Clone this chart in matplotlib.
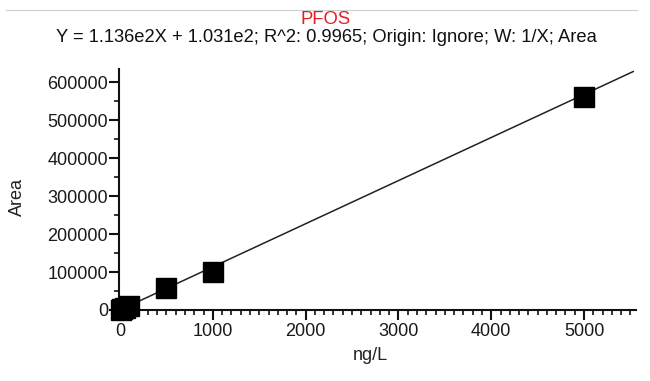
import matplotlib
matplotlib.use("Agg")
import matplotlib.pyplot as plt
from matplotlib.ticker import MultipleLocator
from matplotlib.lines import Line2D
import numpy as np

plt.rcParams['font.family'] = ['Liberation Sans', 'DejaVu Sans']

# Data
conc = [10, 25, 50, 100, 500, 1000, 5000]          # ng/L
area = [800, 2200, 4800, 9500, 57000, 100000, 561000]
slope = 1.136e2
intercept = 1.031e2
fit_x = [0, 5530]

compound = "PFOS"
equation = "Y = 1.136e2X + 1.031e2; R^2: 0.9965; Origin: Ignore; W: 1/X; Area"
x_label = "ng/L"
y_label = "Area"
x_ticks = [0, 1000, 2000, 3000, 4000, 5000]
y_ticks = [0, 100000, 200000, 300000, 400000, 500000, 600000]

W, H = 650, 381
fig = plt.figure(figsize=(W/100, H/100), dpi=100)
ax = fig.add_axes([119/W, 1-310/H, (636-119)/W, (310-69)/H])

fx = np.array(fit_x, dtype=float)
ax.plot(fx, slope*fx + intercept, color='#222222', lw=1.1, zorder=2, clip_on=False)
ax.plot(conc, area, linestyle='none', marker='s', markersize=14, color='black',
        zorder=3, clip_on=False)

ax.set_xlim(-11, 5560)
ax.set_ylim(0, 635000)
ax.set_xticks(x_ticks)
ax.set_yticks(y_ticks)
ax.xaxis.set_minor_locator(MultipleLocator(100))
ax.yaxis.set_minor_locator(MultipleLocator(50000))

for s in ['top', 'right']:
    ax.spines[s].set_visible(False)
for s in ['left', 'bottom']:
    ax.spines[s].set_linewidth(1.5)
    ax.spines[s].set_color('#111111')

ax.tick_params(axis='both', which='major', length=7, width=1.5, color='#111111',
               labelsize=13, labelcolor='#1a1a1a')
ax.tick_params(axis='x', which='major', pad=2)
ax.tick_params(axis='y', which='major', pad=1)
ax.tick_params(axis='both', which='minor', length=3.5, width=1.2, color='#111111')

fig.text(17/W, 1-197/H, y_label, rotation=90, ha='center', va='center',
         fontsize=13, color='#222222')
fig.text(370/W, 1-356/H, x_label, ha='center', va='center', fontsize=13, color='#222222')

fig.text(326/W, 1-19/H, compound, ha='center', va='center', fontsize=13.3, color='#e41e26')
fig.text(326/W, 1-38/H, equation, ha='center', va='center', fontsize=13.2, color='#111111')

fig.add_artist(Line2D([6/W, 637/W], [1-10/H, 1-10/H], color='#d0d0d0', lw=0.8))

fig.savefig('out.png', dpi=100, facecolor='white')
